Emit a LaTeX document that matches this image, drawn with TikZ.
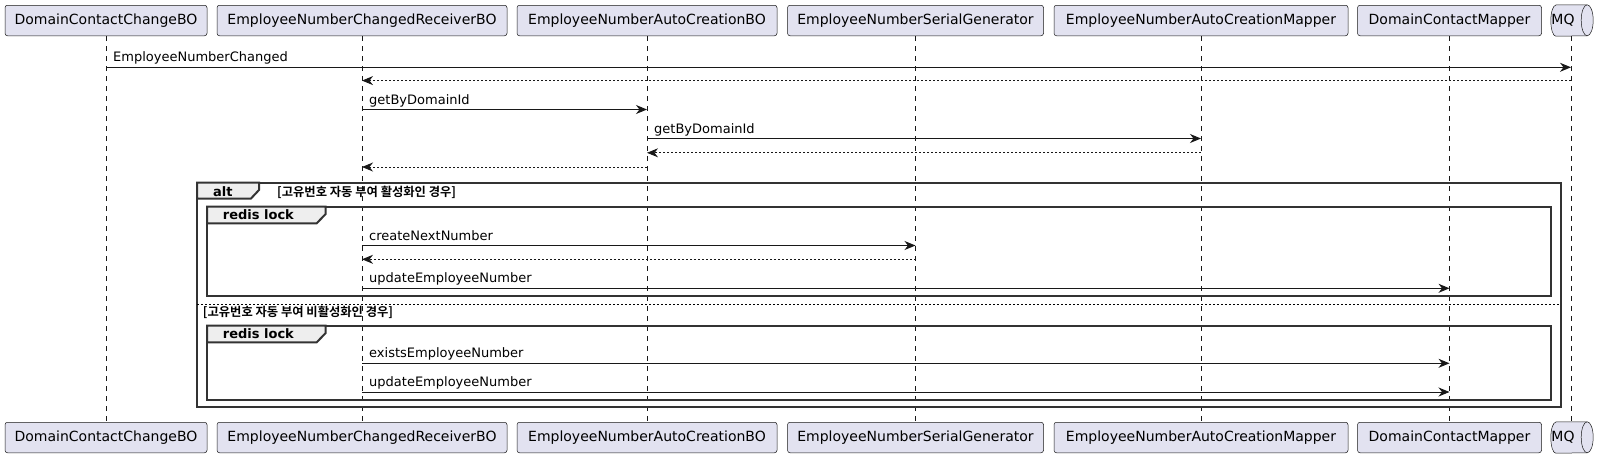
\documentclass[tikz,border=0pt]{standalone}
\usepackage{fontspec}
\setmainfont{DejaVu Sans}
\newfontfamily\krfont{Noto Sans CJK KR}[BoldFont={Noto Sans CJK KR Bold}]
\usetikzlibrary{arrows.meta,calc}
\definecolor{partfill}{HTML}{E2E2F0}
\definecolor{partline}{HTML}{181818}
\definecolor{tabfill}{HTML}{EEEEEE}
\begin{document}
\begin{tikzpicture}[x=1pt,y=-1pt,
 part/.style={draw=partline, fill=partfill, rounded corners=2.5pt, line width=0.5pt, minimum height=30.5pt, inner sep=0pt, font=\fontsize{14}{16}\selectfont, text=black},
 life/.style={draw=partline, line width=0.5pt, dash pattern=on 5pt off 5pt},
 msg/.style={draw=partline, line width=1pt, -{Stealth[length=11pt,width=9pt,inset=3.5pt]}},
 ret/.style={msg, dash pattern=on 2pt off 2pt},
 mlabel/.style={anchor=base west, inner sep=0pt, font=\fontsize{13}{15}\selectfont},
 frm/.style={draw=black!80, line width=2pt},
 tabshape/.style={fill=tabfill, draw=black!80, line width=2pt, line join=miter},
 ftitle/.style={anchor=base west, inner sep=0pt, font=\bfseries\fontsize{13}{15}\selectfont},
 guard/.style={anchor=base west, inner sep=0pt, font=\krfont\bfseries\fontsize{12.3}{14}\selectfont},
 queue/.style={draw=partline, fill=partfill, line width=0.5pt},
]
\useasboundingbox (0,0) rectangle (1599,458);
% participants top
\node[part, minimum width=202pt] (aT) at (106,20.5) {DomainContactChangeBO};
\node[part, minimum width=290pt] (bT) at (362,20.5) {EmployeeNumberChangedReceiverBO};
\node[part, minimum width=260pt] (cT) at (647,20.5) {EmployeeNumberAutoCreationBO};
\node[part, minimum width=256pt] (dT) at (915.5,20.5) {EmployeeNumberSerialGenerator};
\node[part, minimum width=294pt] (eT) at (1201,20.5) {EmployeeNumberAutoCreationMapper};
\node[part, minimum width=184pt] (fT) at (1449.5,20.5) {DomainContactMapper};
% participants bottom
\node[part, minimum width=202pt] (aB) at (106,437.5) {DomainContactChangeBO};
\node[part, minimum width=290pt] (bB) at (362,437.5) {EmployeeNumberChangedReceiverBO};
\node[part, minimum width=260pt] (cB) at (647,437.5) {EmployeeNumberAutoCreationBO};
\node[part, minimum width=256pt] (dB) at (915.5,437.5) {EmployeeNumberSerialGenerator};
\node[part, minimum width=294pt] (eB) at (1201,437.5) {EmployeeNumberAutoCreationMapper};
\node[part, minimum width=184pt] (fB) at (1449.5,437.5) {DomainContactMapper};
% MQ queues
\node[minimum width=42pt, minimum height=31pt, inner sep=0pt] (gT) at (1572,20.5) {};
\node[minimum width=42pt, minimum height=31pt, inner sep=0pt] (gB) at (1572,437.5) {};
\foreach \q in {gT,gB}{
  \draw[queue] ([xshift=5pt]\q.north west) -- ([xshift=-6pt]\q.north east)
     arc[start angle=90,end angle=-90,x radius=6pt,y radius=15.5pt]
     -- ([xshift=5pt]\q.south west)
     arc[start angle=270,end angle=90,x radius=5pt,y radius=15.5pt] -- cycle;
  \draw[draw=partline, line width=0.5pt] ([xshift=-6pt]\q.north east)
     arc[start angle=90,end angle=270,x radius=6pt,y radius=15.5pt];
  \node[inner sep=0pt, font=\fontsize{14}{16}\selectfont] at ([xshift=-9pt]\q.center) {MQ};
}
% lifelines
\foreach \p in {a,b,c,d,e,f}{
  \draw[life] (\p T.south) -- (\p B.north);
}
\draw[life] ([xshift=-1pt]gT.south) -- ([xshift=-1pt]gB.north);
% frames
\draw[frm] (197,182.5) rectangle (1560.5,407);
\draw[tabshape] (197,182.5) -- (259,182.5) -- (259,190) -- (251,198.5) -- (197,198.5) -- cycle;
\node[ftitle] (altt) at (213,196) {alt};
\node[guard] (g1) at (277,196) {[고유번호 자동 부여 활성화인 경우]};
\draw[frm] (207,206.7) rectangle (1550.7,295.5);
\draw[tabshape] (207,206.7) -- (325.7,206.7) -- (325.7,214) -- (316.7,223.3) -- (207,223.3) -- cycle;
\node[ftitle] (rl1) at (222.7,219.5) {redis lock};
\draw[black, line width=1pt, dash pattern=on 2pt off 2pt] (197,304.3) -- (1560.5,304.3);
\node[guard] (g2) at (202.7,316) {[고유번호 자동 부여 비활성화인 경우]};
\draw[frm] (207,325.7) rectangle (1550.7,399.5);
\draw[tabshape] (207,325.7) -- (325.7,325.7) -- (325.7,333) -- (316.7,342.3) -- (207,342.3) -- cycle;
\node[ftitle] (rl2) at (222.7,338.5) {redis lock};
% message rows
\coordinate (m1) at (0,67.3);
\coordinate (m2) at (0,80.6);
\coordinate (m3) at (0,109.5);
\coordinate (m4) at (0,138.5);
\coordinate (m5) at (0,152.8);
\coordinate (m6) at (0,167);
\coordinate (m7) at (0,245.5);
\coordinate (m8) at (0,259.3);
\coordinate (m9) at (0,288.3);
\coordinate (m10) at (0,363.3);
\coordinate (m11) at (0,392);
% messages
\draw[msg] (aT |- m1) -- ([xshift=-1pt]gT |- m1);
\node[mlabel] (l1) at ([xshift=7pt,yshift=5.5pt]aT |- m1) {EmployeeNumberChanged};
\draw[ret] ([xshift=-1pt]gT |- m2) -- (bT |- m2);
\draw[msg] (bT |- m3) -- (cT |- m3);
\node[mlabel] (l3) at ([xshift=7pt,yshift=5.5pt]bT |- m3) {getByDomainId};
\draw[msg] (cT |- m4) -- (eT |- m4);
\node[mlabel] (l4) at ([xshift=7pt,yshift=5.5pt]cT |- m4) {getByDomainId};
\draw[ret] (eT |- m5) -- (cT |- m5);
\draw[ret] (cT |- m6) -- (bT |- m6);
\draw[msg] (bT |- m7) -- (dT |- m7);
\node[mlabel] (l7) at ([xshift=7pt,yshift=5.5pt]bT |- m7) {createNextNumber};
\draw[ret] (dT |- m8) -- (bT |- m8);
\draw[msg] (bT |- m9) -- (fT |- m9);
\node[mlabel] (l9) at ([xshift=7pt,yshift=5.5pt]bT |- m9) {updateEmployeeNumber};
\draw[msg] (bT |- m10) -- (fT |- m10);
\node[mlabel] (l10) at ([xshift=7pt,yshift=5.5pt]bT |- m10) {existsEmployeeNumber};
\draw[msg] (bT |- m11) -- (fT |- m11);
\node[mlabel] (l11) at ([xshift=7pt,yshift=5.5pt]bT |- m11) {updateEmployeeNumber};
\end{tikzpicture}
\end{document}
